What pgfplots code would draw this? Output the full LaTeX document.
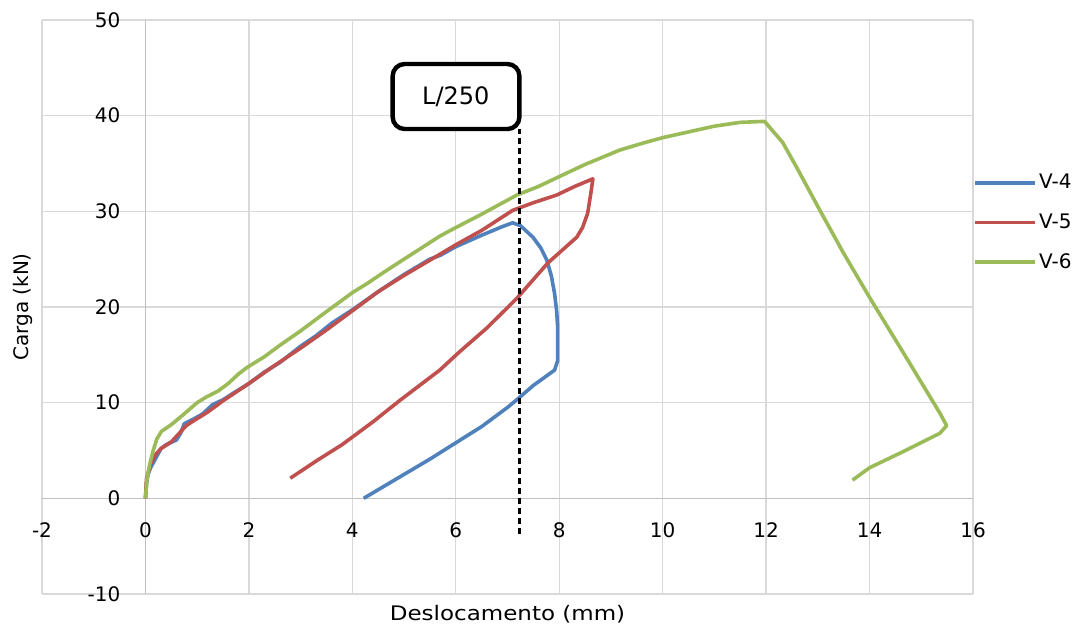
\documentclass[border=0pt]{standalone}
\usepackage{pgfplots}
\pgfplotsset{compat=1.18}
\usetikzlibrary{calc}
\usepackage{fontspec}
\setmainfont{DejaVu Sans}
\newfontfamily\widefont{DejaVu Sans}[FakeStretch=1.15]
\definecolor{cblue}{HTML}{4F81BD}
\definecolor{cred}{HTML}{C0504D}
\definecolor{cgreen}{HTML}{9BBB59}
\definecolor{cgrid}{HTML}{D9D9D9}
\definecolor{caxis}{HTML}{BFBFBF}
\begin{document}
\begin{tikzpicture}
\begin{axis}[
  width=465.5pt, height=287pt, scale only axis,
  xmin=-2, xmax=16, ymin=-10, ymax=50,
  xtick={-2,0,...,16}, ytick={-10,0,...,50},
  axis lines=middle,
  axis line style={-, caxis, line width=0.8pt},
  hide obscured x ticks=false, hide obscured y ticks=false,
  major tick length=0pt,
  grid=major,
  major grid style={cgrid, line width=0.7pt},
  /pgf/number format/assume math mode=true,
  ticklabel style={font=\fontsize{10}{12}\selectfont, text=black},
  yticklabel style={anchor=east, xshift=-9pt},
  xticklabel style={anchor=north, yshift=-8.7pt},
  every axis x label/.style={at={(rel axis cs:0.5,0)}, anchor=north, yshift=-2pt, font=\widefont\fontsize{10}{12}\selectfont},
  every axis y label/.style={at={(rel axis cs:0,0.5)}, rotate=90, anchor=south, inner sep=4.5pt, font=\fontsize{10}{12}\selectfont},
  xlabel={Deslocamento (mm)},
  ylabel={Carga (kN)},
  legend style={at={(rel axis cs:1,0.647)}, anchor=west, draw=none, fill=none,
    inner xsep=0pt, inner ysep=0pt, row sep=11pt,
    font=\fontsize{10}{12}\selectfont,
    nodes={inner xsep=1pt, inner ysep=0pt}},
  legend image code/.code={\draw[#1] (0pt,0pt) -- (30pt,0pt);},
  legend cell align=left,
  every axis plot/.append style={line width=1.8pt, line join=round},
]
\addplot[cblue] coordinates {
(0,0) (0.02,1.5) (0.05,2.5) (0.1,3.2) (0.2,4.2) (0.3,5.2) (0.4,5.6) (0.6,6.1) (0.68,6.8) (0.75,7.8) (0.9,8.2) (1.1,8.8) (1.3,9.8) (1.5,10.3) (1.7,11.0) (2.0,12.0) (2.3,13.2) (2.6,14.2) (3.0,15.9) (3.3,17.0) (3.6,18.3) (4.0,19.7) (4.5,21.6) (5.0,23.4) (5.5,25.0) (5.7,25.4) (6.0,26.3) (6.5,27.5) (6.9,28.4) (7.1,28.8) (7.25,28.5) (7.49,27.3) (7.64,26.2) (7.76,24.9) (7.85,23.2) (7.91,21.4) (7.95,19.6) (7.97,17.9) (7.97,14.4) (7.91,13.4) (7.5,11.8) (7.2,10.4) (7.0,9.5) (6.5,7.5) (6.0,5.8) (5.5,4.1) (5.0,2.5) (4.5,0.9) (4.22,0)
};
\addlegendentry{V-4}
\addplot[cred] coordinates {
(0,0) (0.02,2) (0.1,3.6) (0.2,4.6) (0.3,5.2) (0.5,5.9) (0.79,7.6) (0.9,8.0) (1.2,9.0) (1.5,10.2) (2.0,12.0) (2.5,13.9) (3.0,15.7) (3.5,17.6) (4.0,19.6) (4.5,21.6) (5.0,23.3) (5.69,25.5) (6.0,26.5) (6.5,28.0) (7.1,30.1) (7.5,30.9) (7.95,31.7) (8.3,32.6) (8.65,33.4) (8.62,32.2) (8.55,29.8) (8.45,28.3) (8.34,27.3) (7.78,24.6) (7.18,20.9) (6.6,17.8) (6.07,15.3) (5.69,13.4) (5.3,11.8) (4.91,10.2) (4.4,8.0) (3.8,5.6) (3.3,3.9) (2.8,2.1)
};
\addlegendentry{V-5}
\addplot[cgreen] coordinates {
(0,0) (0.03,2) (0.08,3.5) (0.15,5) (0.22,6.2) (0.31,7.0) (0.5,7.7) (0.7,8.6) (1.0,10.0) (1.18,10.6) (1.4,11.2) (1.6,12.0) (1.8,13.0) (1.97,13.7) (2.3,14.8) (2.6,16.0) (3.0,17.5) (3.42,19.2) (3.8,20.7) (4.0,21.5) (4.3,22.5) (4.6,23.6) (5.0,25.0) (5.69,27.4) (6.0,28.3) (6.5,29.7) (7.18,31.7) (7.6,32.6) (7.95,33.5) (8.5,34.9) (9.17,36.4) (9.6,37.1) (10.0,37.7) (10.5,38.3) (11.0,38.9) (11.5,39.3) (11.97,39.4) (12.32,37.2) (12.6,34.5) (13.04,30.1) (13.5,25.6) (14.0,21.0) (14.7,14.8) (15.36,8.9) (15.49,7.6) (15.36,6.8) (14.58,4.7) (14.0,3.2) (13.67,1.9)
};
\addlegendentry{V-6}
\addplot[black, line width=1.1pt, dash pattern=on 3pt off 2pt, forget plot] coordinates {(7.23,-3.7) (7.23,38.6)};
\draw[line width=2.2pt, rounded corners=6pt, fill=white] (axis cs:4.78,38.6) rectangle (axis cs:7.23,45.4);
\node at (axis cs:6.0,42.0) {\fontsize{12}{14}\selectfont L/250};
\end{axis}
\pgfresetboundingbox
\path ($(current axis.south west)+(-21pt,-17.5pt)$) rectangle ($(current axis.north east)+(54pt,10pt)$);
\end{tikzpicture}
\end{document}
